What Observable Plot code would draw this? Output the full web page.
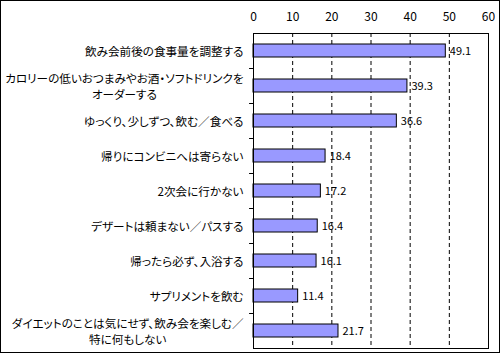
<!DOCTYPE html>
<html><head><meta charset="utf-8">
<script src="https://cdn.jsdelivr.net/npm/d3@7"></script>
<script src="https://cdn.jsdelivr.net/npm/@observablehq/plot@0.6"></script>
<style>
body{margin:0;background:#fff}
#wrap{position:relative;width:500px;height:353px}
#wrap::after{content:"";position:absolute;left:0;top:0;right:0;bottom:0;border:1px solid #000;pointer-events:none}
svg text{font-feature-settings:"palt"}
</style></head><body><div id="wrap"></div>
<script>
const categories = [
  "飲み会前後の食事量を調整する",
  "カロリーの低いおつまみやお酒・ソフトドリンクを\nオーダーする",
  "ゆっくり、少しずつ、飲む／食べる",
  "帰りにコンビニへは寄らない",
  "2次会に行かない",
  "デザートは頼まない／パスする",
  "帰ったら必ず、入浴する",
  "サプリメントを飲む",
  "ダイエットのことは気にせず、飲み会を楽しむ／\n特に何もしない"
];
const values = [49.1, 39.3, 36.6, 18.4, 17.2, 16.4, 16.1, 11.4, 21.7];
const xTicks = [0, 10, 20, 30, 40, 50, 60];
const gridTicks = [10, 20, 30, 40, 50];

const data = categories.map((c, i) => ({c, v: values[i]}));

const chart = Plot.plot({
  width: 500, height: 353,
  marginLeft: 253, marginRight: 12, marginTop: 33, marginBottom: 5,
  style: {fontFamily: '"Noto Sans CJK JP", sans-serif', fontSize: "12px", color: "#000", background: "#fff"},
  x: {domain: [0, 60], axis: null},
  y: {domain: categories, axis: null, padding: 0},
  marks: [
    Plot.ruleX(gridTicks, {stroke: "#000", strokeDasharray: "4,3"}),
    Plot.barX(data, {x: "v", y: "c", fill: "#9999ff", stroke: "#000", insetTop: 11, insetBottom: 11}),
    Plot.frame({stroke: "#000"}),
    Plot.axisX({anchor: "top", ticks: xTicks, tickSize: 0, tickPadding: 13, fontSize: 12, fill: "#000", label: null}),
    Plot.ruleY(categories.slice(1), {y: d => d, x1: -1, x2: 0, dy: -17.5, stroke: "#000", clip: false}),
    Plot.text(data, {x: "v", y: "c", text: d => d.v.toFixed(1), dx: 4, textAnchor: "start", fontSize: 11, fill: "#000"}),
    Plot.text(data, {x: 0, y: "c", text: "c", dx: -10, textAnchor: "end", lineHeight: 1.4, fontSize: 11.6, fill: "#000"})
  ]
});
document.getElementById("wrap").appendChild(chart);

// center multi-line labels as a block (right-aligned block, centered lines)
chart.querySelectorAll("text").forEach(t => {
  const spans = t.querySelectorAll("tspan");
  if (spans.length > 1) {
    let w = 0;
    spans.forEach(s => { w = Math.max(w, s.getComputedTextLength()); });
    t.style.textAnchor = "middle";
    spans.forEach(s => s.setAttribute("x", -w / 2));
  }
});
</script></body></html>
